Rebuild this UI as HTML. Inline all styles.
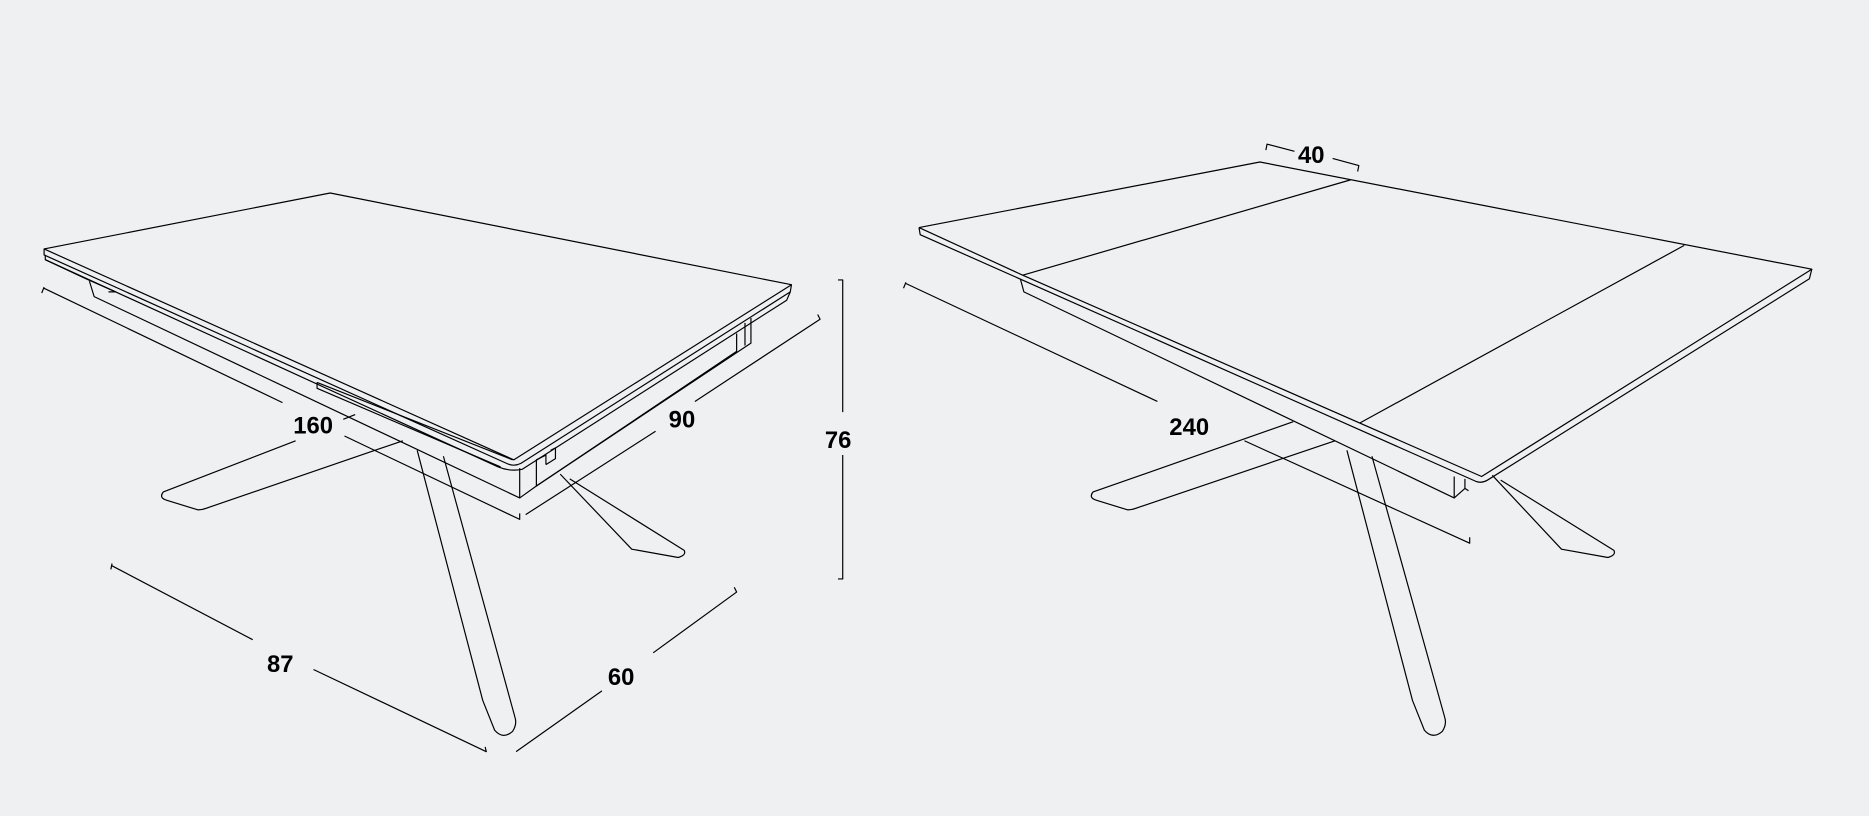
<!DOCTYPE html>
<html><head><meta charset="utf-8"><style>
html,body{margin:0;padding:0;background:#eff0f2;}
svg{display:block;}
text{font-family:"Liberation Sans",sans-serif;font-weight:bold;font-size:20px;fill:#000;}
</style></head><body>
<svg width="1869" height="816" viewBox="0 0 1568 685" preserveAspectRatio="none" xmlns="http://www.w3.org/2000/svg">
<rect width="1568" height="685" fill="#eff0f2"/>
<g fill="none" stroke="#000" stroke-width="1" stroke-linejoin="round">
<!-- LEFT TABLE -->
<path d="M37,209 L277,162 L664,239 L431,386 Z"/>
<path d="M37,209 L37,214 L425,389 Q431,392 437,389 L663,245 L664,239"/>
<path d="M38,214 L38,218 L418,392 Q428,396 438,394 L660,252 L663,245"/>
<path d="M38,218 L72,234 L97,245 L91,245"/>
<path d="M75,236 L79,249 L436,418 L436,393"/>
<path d="M450,392 L450,408 L630,288 L630,267"/>
<path d="M625,271 L625,290 M618,280 L618,295 L450,408"/>
<path d="M266,321 L266,326 L420,392 M266,321 L430,386"/>
<path d="M450,392 L450,386 L458,382 L458,390 M462,378 L466,376 L466,385 L458,390"/>
<path d="M436,418 L450,408"/>
<!-- legs -->
<path d="M350,378 L405,588 L415,613 Q422,621 430,614 Q434,608 432,602 L372,383"/>
<path d="M248,370 L137,413 Q133,418 140,420 L166,428 Q170,428 175,426 L338,370"/>
<path d="M288,352 L298,348"/>
<path d="M470,398 L530,461 L569,468 Q576,466 574,462 L478,402"/>
<!-- dims left -->
<path d="M35,246 L37,241 M37,242 L237,338 M289,366 L436,436 L436,431"/>
<path d="M441,432 L550,362 M583,337 L688,268 L686,264"/>
<path d="M703,235 L707,235 L707,346 M707,382 L707,486 L703,486"/>
<path d="M93,478 L94,473 M94,475 L212,537 M263,562 L408,631 L407,627"/>
<path d="M433,631 L505,580 M548,548 L618,497 L616,493"/>
<!-- RIGHT TABLE -->
<path d="M771,191 L1057,136 L1520,226 L1243,400 L858,231 L771,191"/>
<path d="M858,231 L1133,151 M1141,355 L1413,206"/>
<path d="M771,191 L772,197 L1238,404 Q1243,406 1248,403 L1518,234 L1520,226"/>
<path d="M856,234 L859,245 L1220,418 L1220,400"/>
<path d="M1229,402 L1229,410 L1220,418"/>
<path d="M1130,378 L1185,588 L1195,613 Q1202,621 1210,614 Q1214,608 1212,602 L1151,383"/>
<path d="M1085,354 L917,413 Q913,418 920,420 L946,428 Q950,428 955,426 L1120,370"/>
<path d="M1252,399 L1310,461 L1349,468 Q1356,466 1354,462 L1259,403"/>
<path d="M1229,410 L1232,412"/>
<!-- dims right -->
<path d="M758,242 L760,237 M760,238 L971,337 M1044,370 L1233,456 L1233,451"/>
<path d="M1062,126 L1063,121 L1086,127 M1118,133 L1140,139 L1139,144"/>
</g>
<text x="246" y="364">160</text>
<text x="561" y="359">90</text>
<text x="692" y="376">76</text>
<text x="224" y="564">87</text>
<text x="510" y="575">60</text>
<text x="981" y="365">240</text>
<text x="1089" y="137">40</text>
</svg>
</body></html>
